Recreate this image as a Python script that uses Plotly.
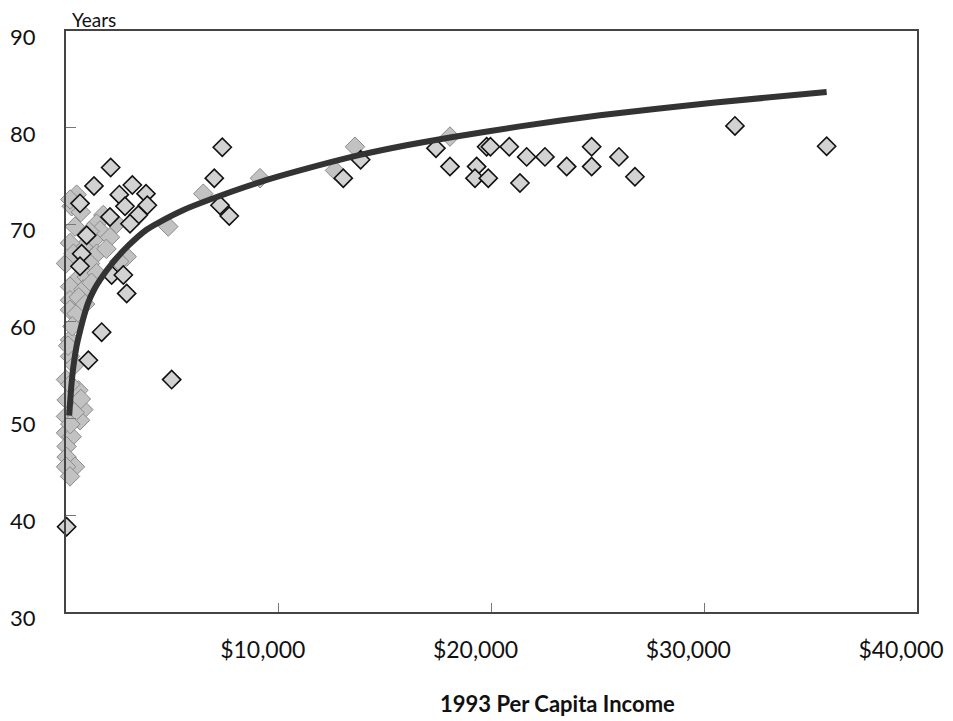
import plotly.graph_objects as go

# ---- data ----
gray_income = [501, 266, 1754, 1441, 2381, 423, 1598, 2068, 1284, 815, 188, 1441, 0, 1128,
               501, 971, 1441, 2852, 188, 815, 188, 188, 501, 188, 188, 0, 580, 30, 815, 0,
               658, 0, 266, 30, 30, 423, 0, 188, 3322,
               200, 700, 1100, 350, 1900, 2500, 1200, 600, 900, 300, 100, 400, 200, 700, 400, 200,
               6453, 9118, 4808, 12643, 13583, 18048]
gray_life = [73.1, 71.9, 71.0, 70.1, 70.1, 69.8, 69.4, 68.7, 68.4, 67.7, 68.1, 67.0, 66.0, 66.0,
             64.3, 64.6, 65.0, 66.7, 63.6, 63.3, 62.2, 61.2, 60.8, 58.1, 56.4, 54.0, 52.9, 51.9, 50.9, 50.2,
             49.8, 48.5, 48.1, 47.1, 46.0, 45.0, 45.0, 44.0, 70.8,
             72.6, 71.3, 69.3, 67.0, 67.5, 66.2, 64.0, 62.5, 61.8, 59.5, 57.5, 55.5, 53.5, 52.0, 50.6, 49.4,
             73.2, 74.8, 69.8, 75.6, 78.05, 79.1]

dot_income = [2100, 1316, 3118, 3760, 2507, 658, 2773, 3822, 3400, 2068, 3008, 971, 736, 658,
              2146, 2695, 2852, 1676, 1050, 30, 4967, 7346, 6970, 7238, 7675, 13033, 13850,
              17390, 18048, 19300, 19223, 19848, 19773, 19950, 20835, 21653, 22513, 21338,
              23533, 24708, 24708, 25991, 26743, 31443, 35753]
dot_life = [75.9, 74.0, 74.1, 73.2, 73.1, 72.2, 71.9, 72.0, 71.0, 70.8, 70.1, 68.9, 67.0, 65.7,
            64.8, 64.8, 62.9, 58.9, 56.0, 38.8, 54.0, 78.0, 74.8, 72.0, 70.9, 74.8, 76.7,
            77.9, 76.0, 76.0, 74.8, 74.8, 78.05, 78.05, 78.05, 77.0, 77.0, 74.3,
            76.0, 78.05, 76.0, 77.0, 74.95, 80.2, 78.1]

trend_income = [150, 250, 343, 500, 658, 850, 1034, 1300, 1598, 2209, 2914, 3800, 4418,
                5500, 6768, 9118, 10998, 13818, 16000, 18048, 21338, 25098, 30409, 35753]
trend_life = [50.3, 53.3, 55.3, 57.5, 59.0, 60.6, 61.9, 63.2, 64.3, 66.1, 67.8, 69.5, 70.3,
              71.5, 72.6, 74.4, 75.6, 77.2, 78.2, 79.0, 80.15, 81.3, 82.6, 83.7]

x_tickvals = [10000, 20000, 30000, 40000]
x_ticktext = ["$10,000", "$20,000", "$30,000", "$40,000"]
y_tickvals = [30, 40, 50, 60, 70, 80, 90]

FONT = "Lato"

fig = go.Figure()
fig.add_trace(go.Scatter(
    x=gray_income, y=gray_life, mode="markers", cliponaxis=False,
    marker=dict(symbol="diamond", size=15, color="#c2c2c2",
                line=dict(color="#8a8a8a", width=1)),
    showlegend=False, hoverinfo="x+y"))
fig.add_trace(go.Scatter(
    x=dot_income, y=dot_life, mode="markers", cliponaxis=False,
    marker=dict(symbol="diamond", size=14, color="#d2d2d2",
                line=dict(color="#111111", width=1.6)),
    showlegend=False, hoverinfo="x+y"))
fig.add_trace(go.Scatter(
    x=trend_income, y=trend_life, mode="lines", cliponaxis=False,
    line=dict(color="#333333", width=6, shape="spline", smoothing=0.6),
    showlegend=False, hoverinfo="skip"))

# the page body adds an 8px offset, so the figure is sized/margined to compensate
fig.update_layout(
    width=945, height=713,
    margin=dict(l=58, r=36, t=23, b=109),
    paper_bgcolor="white", plot_bgcolor="white",
    font=dict(family=FONT, color="#111111"),
    xaxis=dict(range=[0, 40000], tickvals=x_tickvals, ticktext=x_ticktext,
               automargin=False,
               showgrid=False, zeroline=False, showline=True, mirror=True,
               linecolor="#444444", linewidth=2,
               ticks="inside", ticklen=9, tickcolor="#777777", tickwidth=1,
               tickfont=dict(size=23, family=FONT, color="#111111"),
               ticklabelshift=-16, ticklabelstandoff=16),
    yaxis=dict(range=[30, 90], tickvals=y_tickvals,
               automargin=False,
               showgrid=False, zeroline=False, showline=True, mirror=True,
               linecolor="#444444", linewidth=2,
               ticks="inside", ticklen=10, tickcolor="#777777", tickwidth=1,
               tickfont=dict(size=22, family=FONT, color="#111111"),
               ticklabelshift=6, ticklabelstandoff=24),
    annotations=[
        dict(text="Years", xref="paper", yref="paper", x=0.005, y=1.019,
             xanchor="left", yanchor="middle", showarrow=False,
             font=dict(size=19, family=FONT, color="#111111")),
        dict(text="<b>1993 Per Capita Income</b>", xref="paper", yref="paper",
             x=0.578, y=-0.158, xanchor="center", yanchor="middle", showarrow=False,
             font=dict(size=22, family=FONT, color="#111111")),
    ],
)

fig.write_html("out.html")
